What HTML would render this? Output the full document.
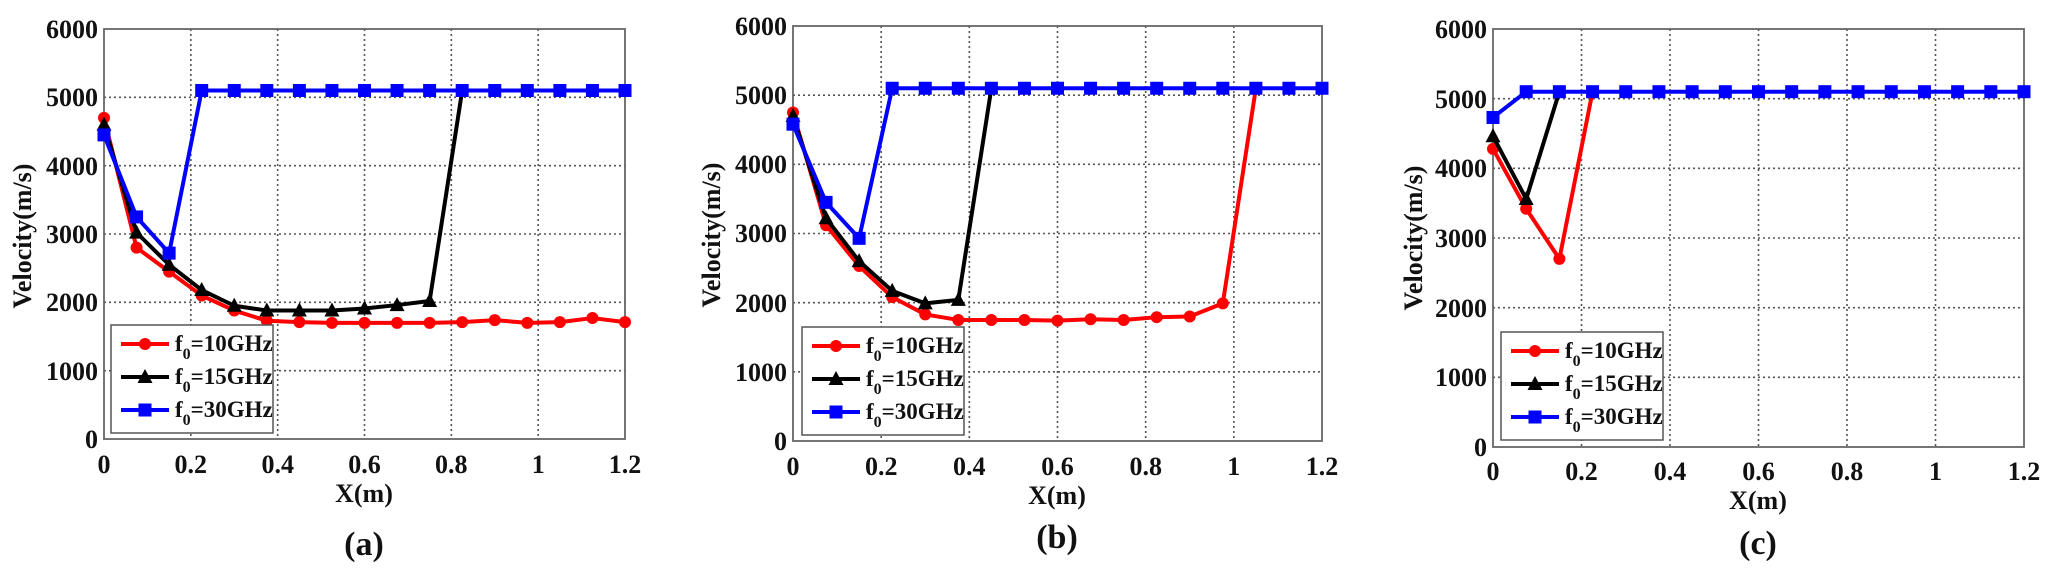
<!DOCTYPE html>
<html><head><meta charset="utf-8"><style>
html,body{margin:0;padding:0;background:#fff;}
svg{display:block;}
svg text{font-family:"Liberation Serif","Times New Roman",serif !important;font-weight:bold;fill:#111;}
.t{font-size:26px;}
.l{font-size:23px;}
.s{font-size:16px;}
.cap{font-size:34px;}
</style></head><body>
<svg id="s" width="2051" height="570" viewBox="0 0 2051 570" xmlns="http://www.w3.org/2000/svg" font-family="Liberation Serif, serif" font-weight="bold">
<g id="pa" transform="translate(104,29)" font-family="Liberation Serif, serif">
<text class="t" x="-6" y="419" text-anchor="end">0</text>
<text class="t" x="-6" y="351" text-anchor="end">1000</text>
<text class="t" x="-6" y="282" text-anchor="end">2000</text>
<text class="t" x="-6" y="214" text-anchor="end">3000</text>
<text class="t" x="-6" y="146" text-anchor="end">4000</text>
<text class="t" x="-6" y="77" text-anchor="end">5000</text>
<text class="t" x="-6" y="9" text-anchor="end">6000</text>
<text class="t" x="0" y="444" text-anchor="middle">0</text>
<text class="t" x="86.8" y="444" text-anchor="middle">0.2</text>
<text class="t" x="173.7" y="444" text-anchor="middle">0.4</text>
<text class="t" x="260.5" y="444" text-anchor="middle">0.6</text>
<text class="t" x="347.3" y="444" text-anchor="middle">0.8</text>
<text class="t" x="434.2" y="444" text-anchor="middle">1</text>
<text class="t" x="521" y="444" text-anchor="middle">1.2</text>
<text class="t" x="260" y="473" text-anchor="middle">X(m)</text>
<text class="cap" x="260" y="526" text-anchor="middle">(a)</text>
<text class="t" transform="translate(-73,207) rotate(-90)" text-anchor="middle">Velocity(m/s)</text>
</g>
<g id="pb" transform="translate(793,26)" font-family="Liberation Serif, serif">
<text class="t" x="-6" y="424" text-anchor="end">0</text>
<text class="t" x="-6" y="355" text-anchor="end">1000</text>
<text class="t" x="-6" y="286" text-anchor="end">2000</text>
<text class="t" x="-6" y="216" text-anchor="end">3000</text>
<text class="t" x="-6" y="147" text-anchor="end">4000</text>
<text class="t" x="-6" y="78" text-anchor="end">5000</text>
<text class="t" x="-6" y="9" text-anchor="end">6000</text>
<text class="t" x="0" y="449" text-anchor="middle">0</text>
<text class="t" x="88.2" y="449" text-anchor="middle">0.2</text>
<text class="t" x="176.3" y="449" text-anchor="middle">0.4</text>
<text class="t" x="264.5" y="449" text-anchor="middle">0.6</text>
<text class="t" x="352.7" y="449" text-anchor="middle">0.8</text>
<text class="t" x="440.8" y="449" text-anchor="middle">1</text>
<text class="t" x="529" y="449" text-anchor="middle">1.2</text>
<text class="t" x="264" y="478" text-anchor="middle">X(m)</text>
<text class="cap" x="264" y="522" text-anchor="middle">(b)</text>
<text class="t" transform="translate(-73,209) rotate(-90)" text-anchor="middle">Velocity(m/s)</text>
</g>
<g id="pc" transform="translate(1493,29)" font-family="Liberation Serif, serif">
<text class="t" x="-6" y="427" text-anchor="end">0</text>
<text class="t" x="-6" y="357" text-anchor="end">1000</text>
<text class="t" x="-6" y="288" text-anchor="end">2000</text>
<text class="t" x="-6" y="218" text-anchor="end">3000</text>
<text class="t" x="-6" y="148" text-anchor="end">4000</text>
<text class="t" x="-6" y="79" text-anchor="end">5000</text>
<text class="t" x="-6" y="9" text-anchor="end">6000</text>
<text class="t" x="0" y="451" text-anchor="middle">0</text>
<text class="t" x="88.5" y="451" text-anchor="middle">0.2</text>
<text class="t" x="177" y="451" text-anchor="middle">0.4</text>
<text class="t" x="265.5" y="451" text-anchor="middle">0.6</text>
<text class="t" x="354" y="451" text-anchor="middle">0.8</text>
<text class="t" x="442.5" y="451" text-anchor="middle">1</text>
<text class="t" x="531" y="451" text-anchor="middle">1.2</text>
<text class="t" x="265" y="480" text-anchor="middle">X(m)</text>
<text class="cap" x="265" y="525" text-anchor="middle">(c)</text>
<text class="t" transform="translate(-71,209) rotate(-90)" text-anchor="middle">Velocity(m/s)</text>
</g>
</svg>
<script>
(function(){
var NS="http://www.w3.org/2000/svg";
function el(p,n,a){var e=document.createElementNS(NS,n);for(var k in a)e.setAttribute(k,a[k]);p.appendChild(e);return e;}
var P=[
 {id:"pa",w:521,h:410,lg:[7,296],
  r:[4700,2800,2450,2100,1880,1730,1710,1700,1700,1700,1700,1710,1740,1700,1710,1770,1710],rm:17,
  k:[4600,3020,2550,2180,1950,1880,1880,1880,1910,1960,2020,5100],km:11,
  b:[4450,3250,2720,5100,5100,5100,5100,5100,5100,5100,5100,5100,5100,5100,5100,5100,5100],bm:17},
 {id:"pb",w:529,h:415,lg:[9,301],
  r:[4750,3120,2530,2080,1830,1750,1750,1750,1740,1760,1750,1790,1800,1990,5100],rm:14,
  k:[4700,3220,2600,2170,1990,2040,5100],km:6,
  b:[4580,3450,2930,5100,5100,5100,5100,5100,5100,5100,5100,5100,5100,5100,5100,5100,5100],bm:17},
 {id:"pc",w:531,h:418,lg:[8,303],
  r:[4280,3420,2700,5100],rm:3,
  k:[4460,3560,5100],km:2,
  b:[4730,5100,5100,5100,5100,5100,5100,5100,5100,5100,5100,5100,5100,5100,5100,5100,5100],bm:17}
];
function mark(g,t,x,y,c){
 if(t=="o")el(g,"circle",{cx:x,cy:y,r:6,fill:c});
 else if(t=="^")el(g,"polygon",{points:(x)+","+(y-8)+" "+(x-7.5)+","+(y+6)+" "+(x+7.5)+","+(y+6),fill:c});
 else el(g,"rect",{x:x-6.5,y:y-6.5,width:13,height:13,fill:c});
}
P.forEach(function(p){
 var g=document.getElementById(p.id);
 var bg=document.createElementNS(NS,"g");g.insertBefore(bg,g.firstChild);
 for(var i=1;i<6;i++){
  var x=p.w*i/6,y=p.h*i/6;
  el(bg,"line",{x1:x,y1:0,x2:x,y2:p.h,stroke:"#555","stroke-width":1.6,"stroke-dasharray":"2,3"});
  el(bg,"line",{x1:0,y1:y,x2:p.w,y2:y,stroke:"#555","stroke-width":1.6,"stroke-dasharray":"2,3"});
 }
 el(bg,"rect",{x:0,y:0,width:p.w,height:p.h,fill:"none",stroke:"#666","stroke-width":1.8});
 var X=function(i){return p.w*(i*0.075)/1.2;},Y=function(v){return p.h*(1-v/6000);};
 [["r","o","#f00"],["k","^","#000"],["b","s","#00f"]].forEach(function(s){
  var d=p[s[0]],m=p[s[0]+"m"],pts=d.map(function(v,i){return X(i)+","+Y(v);}).join(" ");
  el(g,"polyline",{points:pts,fill:"none",stroke:s[2],"stroke-width":4,"stroke-linejoin":"round"});
  for(var i=0;i<m;i++)mark(g,s[1],X(i),Y(d[i]),s[2]);
 });
 var lx=p.lg[0],ly=p.lg[1];
 el(g,"rect",{x:lx,y:ly,width:162,height:108,fill:"#fff",stroke:"#555","stroke-width":1.5});
 var labs=["10","15","30"],cs=["#f00","#000","#00f"],ms=["o","^","s"];
 for(var j=0;j<3;j++){
  var yy=ly+19+j*33;
  el(g,"line",{x1:lx+10,y1:yy,x2:lx+58,y2:yy,stroke:cs[j],"stroke-width":4});
  mark(g,ms[j],lx+34,yy,cs[j]);
  var t=el(g,"text",{x:lx+64,y:yy+7,"class":"l","font-family":"Liberation Serif, serif"});
  t.textContent="f";
  var s1=el(t,"tspan",{"class":"s",dy:8});s1.textContent="0";
  var s2=el(t,"tspan",{dy:-8});s2.textContent="="+labs[j]+"GHz";
 }
});
})();
</script>
</body></html>
